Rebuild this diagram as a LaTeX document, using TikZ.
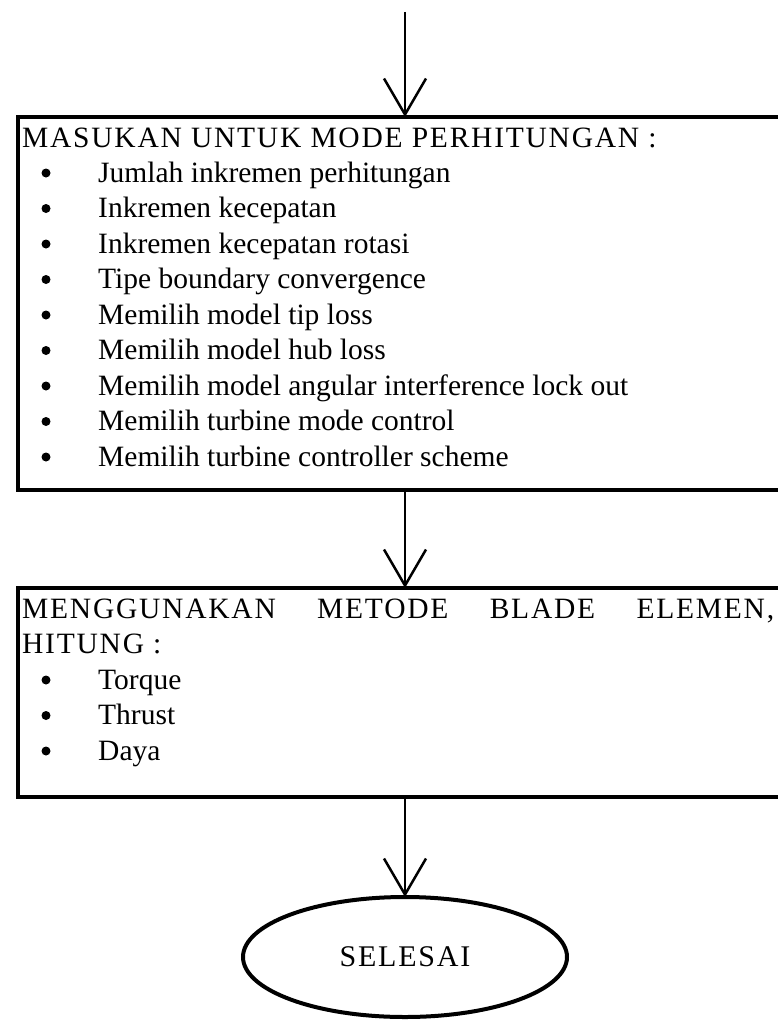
\documentclass[tikz,border=0pt]{standalone}
\usepackage{fontspec}
\setmainfont{Liberation Serif}
\newfontfamily\hurufjarang[LetterSpace=6]{Liberation Serif}
\usetikzlibrary{arrows.meta,shapes.geometric,positioning}

\begin{document}
\begin{tikzpicture}[x=1pt,y=-1pt,
		kotak/.style={draw,line width=4pt,rectangle,anchor=north west,inner sep=0pt,outer sep=0pt},
		alur/.style={line width=2.5pt,-{Straight Barb[length=36pt,width=42pt,line width=2.5pt]}},
		teks/.style={anchor=base west,inner sep=0pt,font=\fontsize{29.5}{35}\selectfont},
		judul/.style={teks,font=\fontsize{29.5}{35}\hurufjarang},
		titik/.style={circle,fill,inner sep=0pt,minimum size=9pt}]
		\useasboundingbox (0,0) rectangle (778,1022);
		\coordinate (mulai) at (405,12);
		\node[kotak,minimum width=780pt,minimum height=373pt] (masukan) at (18,117) {};
		\node[kotak,minimum width=780pt,minimum height=209pt] (metode) at (18,588) {};
		\node[draw,ellipse,line width=4pt,outer sep=0pt,minimum width=324pt,minimum height=120pt,font=\fontsize{30}{36}\hurufjarang] (selesai) at (405,957) {SELESAI};
		% isi kotak masukan
		\node[judul] (judul1) at (22,147) {MASUKAN UNTUK MODE PERHITUNGAN :};
		\foreach \isi [count=\i from 0] in {Jumlah inkremen perhitungan, Inkremen kecepatan, Inkremen kecepatan rotasi, Tipe boundary convergence, Memilih model tip loss, Memilih model hub loss, Memilih model angular interference lock out, Memilih turbine mode control, Memilih turbine controller scheme}{
			\node[titik] (b\i) at (46,173+35.5*\i) {};
			\node[teks] (m\i) at (98,182+35.5*\i) {\isi};
		}
		% isi kotak metode
		\node[judul] (judul2) at (22,618) {\makebox[752pt][s]{MENGGUNAKAN\hfill METODE\hfill BLADE\hfill ELEMEN,}};
		\node[judul] (hitung) at (22,653.5) {HITUNG :};
		\foreach \isi [count=\i from 0] in {Torque, Thrust, Daya}{
			\node[titik] (c\i) at (46,680+35.5*\i) {};
			\node[teks] (h\i) at (98,689+35.5*\i) {\isi};
		}
		\draw[alur] (mulai) -- (mulai |- masukan.north);
		\draw[alur] (masukan.south -| mulai) -- (metode.north -| mulai);
		\draw[alur] (metode.south -| mulai) -- (selesai.north);
	\end{tikzpicture}
\end{document}
